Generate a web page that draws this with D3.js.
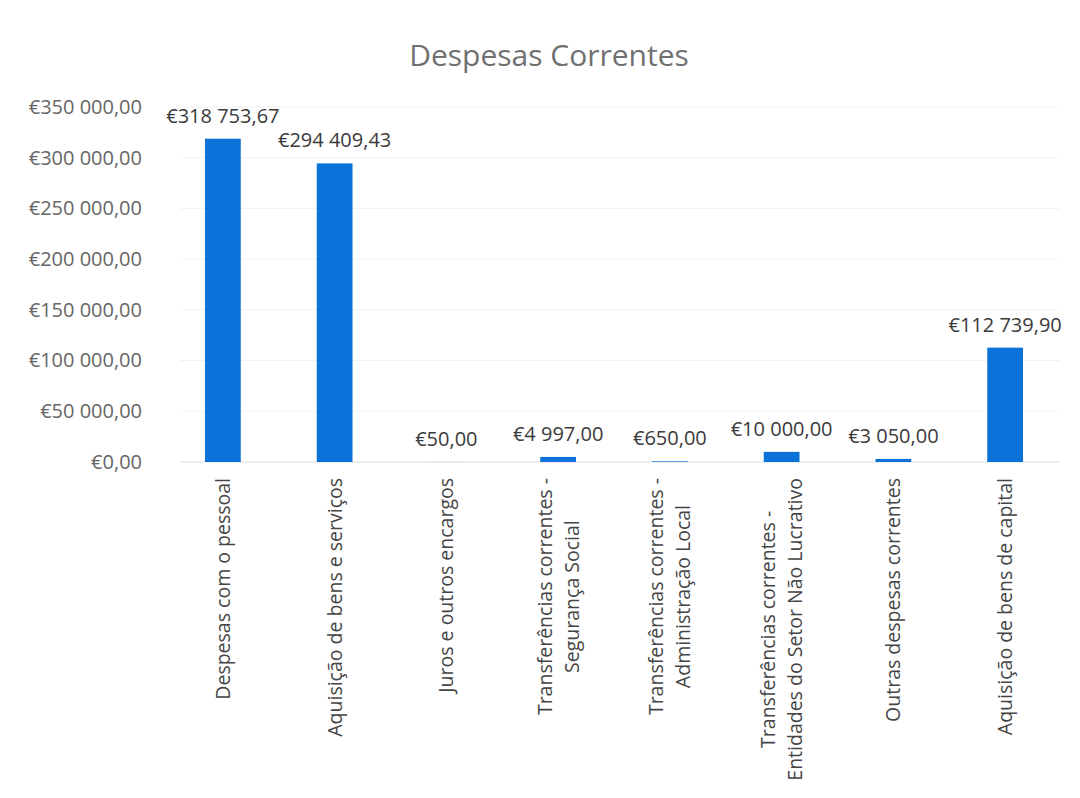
<!DOCTYPE html>
<html>
<head>
<meta charset="utf-8">
<script src="https://cdn.jsdelivr.net/npm/d3@7"></script>
<style>
  body { margin: 0; background: #fff; }
  text { font-family: "Open Sans", sans-serif; }
</style>
</head>
<body>
<div id="chart"></div>
<script>
// Chart data
const categories = [
  ["Despesas com o pessoal"],
  ["Aquisição de bens e serviços"],
  ["Juros e outros encargos"],
  ["Transferências correntes -", "Segurança Social"],
  ["Transferências correntes -", "Administração Local"],
  ["Transferências correntes -", "Entidades do Setor Não Lucrativo"],
  ["Outras despesas correntes"],
  ["Aquisição de bens de capital"]
];
const values = [318753.67, 294409.43, 50, 4997, 650, 10000, 3050, 112739.90];
const yTicks = [0, 50000, 100000, 150000, 200000, 250000, 300000, 350000];

const svgWidth = 1080;
const svgHeight = 798;

// Portuguese euro formatting
const locale = d3.formatLocale({
  decimal: ",",
  thousands: " ",
  grouping: [3],
  currency: ["€", ""]
});
const fmt = locale.format("$,.2f");

const svg = d3.select("#chart")
  .append("svg")
  .attr("width", svgWidth)
  .attr("height", svgHeight);

// Scales
const x = d3.scaleBand()
  .domain(d3.range(categories.length))
  .range([167, 1061])
  .padding(0);

const y = d3.scaleLinear()
  .domain([0, 350000])
  .range([462, 107]);

const barWidth = x.bandwidth() * 0.32;

// Title
svg.append("text")
  .attr("x", 549)
  .attr("y", 66)
  .attr("text-anchor", "middle")
  .style("font-size", "30px")
  .style("fill", "#707070")
  .text("Despesas Correntes");

// Gridlines
svg.append("g")
  .selectAll("line")
  .data(yTicks)
  .enter()
  .append("line")
  .attr("x1", 180)
  .attr("x2", 1060)
  .attr("y1", d => y(d))
  .attr("y2", d => y(d))
  .attr("stroke", d => d === 0 ? "#dcdcdc" : "#f2f2f2")
  .attr("stroke-width", 1);

// Y axis labels
const leftAxis = d3.axisLeft(y)
  .tickValues(yTicks)
  .tickFormat(fmt)
  .tickSize(0)
  .tickPadding(0);

const yAxis = svg.append("g")
  .attr("transform", "translate(142, 0)")
  .call(leftAxis);
yAxis.select(".domain").remove();
yAxis.selectAll("text")
  .style("font-family", "'Open Sans', sans-serif")
  .style("font-size", "20px")
  .style("fill", "#666");

// Bars
svg.append("g")
  .selectAll("rect")
  .data(values)
  .enter()
  .append("rect")
  .attr("x", (d, i) => x(i) + (x.bandwidth() - barWidth) / 2)
  .attr("y", d => y(d))
  .attr("width", barWidth)
  .attr("height", d => y(0) - y(d))
  .attr("fill", "#0b72d9");

// Data labels
svg.append("g")
  .selectAll("text")
  .data(values)
  .enter()
  .append("text")
  .attr("x", (d, i) => x(i) + x.bandwidth() / 2)
  .attr("y", d => y(d) - 16)
  .attr("text-anchor", "middle")
  .style("font-size", "20px")
  .style("fill", "#3a3a3a")
  .text(d => fmt(d));

// Category labels, rotated, lines centred on the longest line
const labelTop = 478;
const lineGap = 27;
const catGroups = svg.append("g")
  .selectAll("g")
  .data(categories)
  .enter()
  .append("g")
  .attr("transform", (d, i) => `translate(${x(i) + x.bandwidth() / 2}, ${labelTop}) rotate(-90)`);

catGroups.each(function (lines) {
  const g = d3.select(this);
  const texts = g.selectAll("text")
    .data(lines)
    .enter()
    .append("text")
    .attr("text-anchor", "middle")
    .attr("dy", (d, j) => ((j - (lines.length - 1) / 2) * lineGap + 7) + "px")
    .style("font-size", "19.5px")
    .style("fill", "#454545")
    .text(d => d);
  let maxLen = 0;
  texts.each(function () { maxLen = Math.max(maxLen, this.getComputedTextLength()); });
  texts.attr("x", -maxLen / 2);
});
</script>
</body>
</html>
